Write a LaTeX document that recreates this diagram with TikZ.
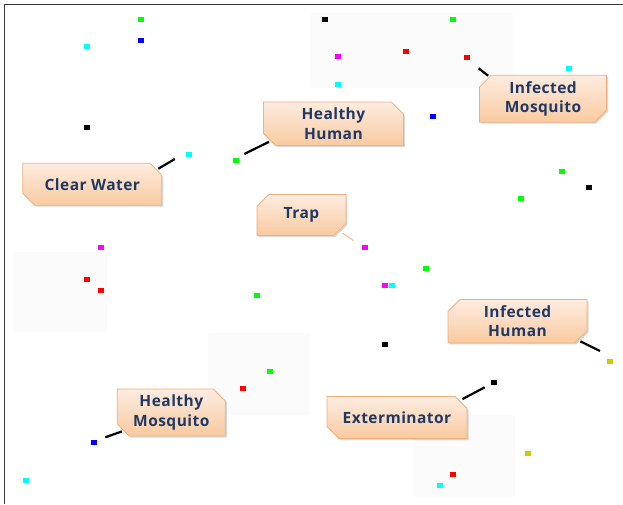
\documentclass[tikz,border=0pt]{standalone}
\usepackage{fontspec}
\setmainfont{Carlito}
\newfontfamily\calloutfont{Open Sans}[LetterSpace=3]
\usetikzlibrary{shapes.misc, shadows, backgrounds, positioning}

\definecolor{calloutText}{RGB}{31,56,100}
\definecolor{calloutTop}{RGB}{253,236,224}
\definecolor{calloutBot}{RGB}{249,202,160}
\definecolor{calloutLine}{RGB}{240,176,126}
\definecolor{dotYellow}{RGB}{204,204,0}
\definecolor{dotCyan}{RGB}{0,255,255}
\definecolor{dotMagenta}{RGB}{255,0,255}
\definecolor{dotGreen}{RGB}{0,255,0}
\definecolor{dotBlue}{RGB}{0,0,255}
\definecolor{dotRed}{RGB}{255,0,0}
\definecolor{faintGray}{RGB}{251,251,251}
\definecolor{frameGray}{RGB}{60,60,60}

\begin{document}
\begin{tikzpicture}[
        x=1pt, y=-1pt,
        callout/.style={chamfered rectangle, chamfered rectangle xsep=6pt, chamfered rectangle ysep=6pt,
            draw=calloutLine, line width=0.8pt, top color=calloutTop, bottom color=calloutBot,
            text=calloutText, font=\calloutfont\bfseries\fontsize{15.5}{19.5}\selectfont, align=center, inner sep=0pt,
            drop shadow={shadow xshift=1.5pt, shadow yshift=-1.5pt, opacity=0.3}},
        snipA/.style={callout, chamfered rectangle corners={north east, south west}},
        snipB/.style={callout, chamfered rectangle corners={north west, south east}},
        pin/.style={line width=2.2pt, black},
        dot/.style={fill=#1}
    ]
        \useasboundingbox (0,0) rectangle (623,504);

        % Frame and faint panels
        \draw[frameGray, line width=1.5pt] (4.5,504) -- (4.5,4.5) -- (623,4.5);
        \begin{scope}[on background layer]
            \fill[faintGray, rounded corners=2pt] (310,13) rectangle (513,88);
            \fill[faintGray, rounded corners=2pt] (13,252) rectangle (107,332);
            \fill[faintGray, rounded corners=2pt] (208,333) rectangle (310,415);
            \fill[faintGray, rounded corners=2pt] (413,415) rectangle (515,497);
        \end{scope}

        % Agents
        \foreach \px/\py/\c in {141/19/dotGreen, 324.6/19/black, 453.3/19/dotGreen, 87/46/dotCyan, 141/40.7/dotBlue,
                338/56.7/dotMagenta, 406/51.7/dotRed, 467.2/57/dotRed, 569/68/dotCyan, 338/84/dotCyan,
                87/127.7/black, 433/116.7/dotBlue, 188.7/154.7/dotCyan, 236.4/160.3/dotGreen, 562/171/dotGreen,
                589/187.3/black, 521/198.3/dotGreen, 100.5/247/dotMagenta, 365/247/dotMagenta, 426.3/268.7/dotGreen,
                87/279.3/dotRed, 100.5/290.3/dotRed, 385.4/285/dotMagenta, 392/285/dotCyan, 256.7/295.7/dotGreen,
                385.4/344.7/black, 609.5/361/dotYellow, 270/371.7/dotGreen, 494.2/382.7/black, 243.2/388/dotRed,
                93.8/442.3/dotBlue, 528/453/dotYellow, 453.3/474.7/dotRed, 439.8/485.7/dotCyan, 25.8/480.3/dotCyan}
            \fill[dot=\c] (\px-3,\py-2.5) rectangle +(6,5);

        % Callouts
        \node[snipA, minimum width=139pt, minimum height=42pt] (clearwater) at (92.3,184.2) {Clear Water};
        \node[snipA, minimum width=140pt, minimum height=41pt] (healthyhuman) at (333.4,123.7) {Healthy\\Human};
        \node[snipB, minimum width=127pt, minimum height=41pt] (infmosquito) at (543,98.7) {Infected\\Mosquito};
        \node[snipB, minimum width=89pt, minimum height=41pt] (trap) at (301.4,215) {Trap};
        \node[snipB, minimum width=139pt, minimum height=41pt] (infhuman) at (517.5,321.2) {Infected\\Human};
        \node[snipA, minimum width=108pt, minimum height=42pt] (healthymosquito) at (171.3,412.5) {Healthy\\Mosquito};
        \node[snipA, minimum width=140pt, minimum height=42pt] (exterminator) at (397,417.5) {Exterminator};

        \coordinate (cw-tip) at (174.8,159);
        \coordinate (hh-tip) at (244.3,154);
        \coordinate (im-tip) at (478.7,68.3);
        \coordinate (tr-tip) at (353.6,240.7);
        \coordinate (ih-tip) at (600,351);
        \coordinate (hm-tip) at (105.3,437.3);
        \coordinate (ex-tip) at (484.7,387.3);

        % Pointers behind the callouts
        \begin{scope}[on background layer]
            \draw[pin] ([xshift=-4pt, yshift=-6pt]clearwater.east |- clearwater.north) -- (cw-tip);
            \draw[pin] ([xshift=6pt, yshift=4pt]healthyhuman.west |- healthyhuman.south) -- (hh-tip);
            \draw[pin] ([xshift=9pt, yshift=-1pt]infmosquito.west |- infmosquito.north) -- (im-tip);
            \draw[calloutLine, line width=0.8pt] ([xshift=-4pt, yshift=3pt]trap.east |- trap.south) -- (tr-tip);
            \draw[pin] ([xshift=-7pt, yshift=2pt]infhuman.east |- infhuman.south) -- (ih-tip);
            \draw[pin] ([xshift=5pt, yshift=5pt]healthymosquito.west |- healthymosquito.south) -- (hm-tip);
            \draw[pin] ([xshift=-5pt, yshift=-3pt]exterminator.east |- exterminator.north) -- (ex-tip);
        \end{scope}

    \end{tikzpicture}
\end{document}
